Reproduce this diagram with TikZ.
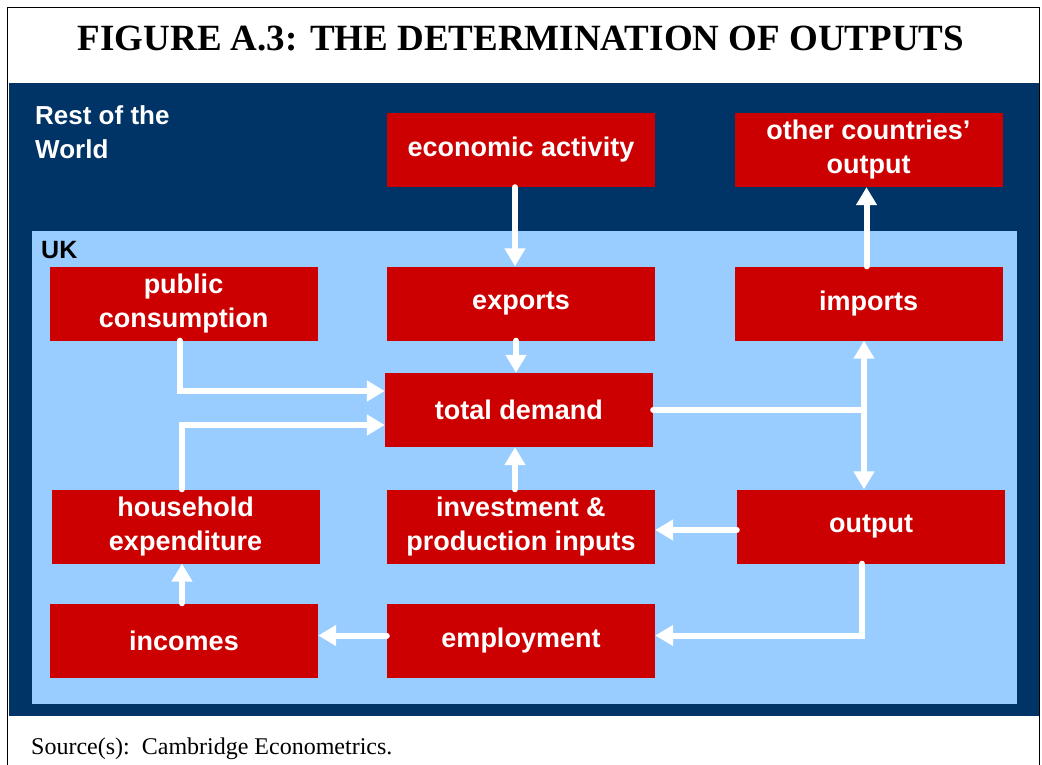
\documentclass[tikz,border=0pt]{standalone}
\usepackage{fontspec}
\setmainfont{Liberation Serif}
\newfontfamily\arialbold{Liberation Sans}[BoldFont={* Bold}]
\usetikzlibrary{arrows.meta}
\definecolor{rowblue}{HTML}{003366}
\definecolor{ukblue}{HTML}{99CCFF}
\definecolor{boxred}{HTML}{CC0000}
\begin{document}
\begin{tikzpicture}[x=1pt,y=-1pt,
  box/.style={fill=boxred, minimum width=268pt, minimum height=74pt, inner sep=0pt,
    text=white, align=center, font=\arialbold\bfseries\fontsize{27}{34}\selectfont},
  arr/.style={draw=white, line width=6pt, line cap=round,
    -{Triangle[width=20pt,length=18pt]}},
  arrboth/.style={draw=white, line width=6pt,
    {Triangle[width=20pt,length=18pt]}-{Triangle[width=20pt,length=18pt]}},
  flow/.style={draw=white, line width=6pt, line cap=round}]
\useasboundingbox (0,0) rectangle (1042,765);
\fill[white] (0,0) rectangle (1042,765);
% frame
\draw[line width=1.5pt] (7.5,7.5) rectangle (1039.5,768);
% title
\node[font=\bfseries\fontsize{37}{42}\selectfont, anchor=base] (title) at (521,51)
  {FIGURE A.3: THE DETERMINATION OF OUTPUTS};
% rest of the world and UK regions
\fill[rowblue] (8.5,83) rectangle (1038.5,716);
\fill[ukblue] (32,231) rectangle (1017,704);
\node[anchor=north west, inner sep=0pt, text=white, align=left,
  font=\arialbold\bfseries\fontsize{26}{34}\selectfont] (row) at (35,105)
  {Rest of the\\World};
\node[anchor=base west, inner sep=0pt,
  font=\arialbold\bfseries\fontsize{25}{30}\selectfont] (uk) at (41,258) {UK};
% boxes
\node[box] (econ) at (521,150) {economic activity};
\node[box] (other) at (868.5,150) {other countries’\\output};
\node[box] (public) at (183.5,303.5) {public\\consumption};
\node[box] (exports) at (521,303.5) {exports};
\node[box] (imports) at (868.5,303.5) {imports};
\node[box] (total) at (519,410) {total demand};
\node[box] (household) at (185.5,526.5) {household\\expenditure};
\node[box] (invest) at (521,526.5) {investment \&\\production inputs};
\node[box] (output) at (871,526.5) {output};
\node[box] (incomes) at (184,640.5) {incomes};
\node[box] (employment) at (521,640.5) {employment};
% connectors
\coordinate (split) at (864,410);
\draw[arr] ([xshift=-6pt]econ.south) -- ([xshift=-6pt]exports.north);
\draw[arr] ([xshift=-5pt]exports.south) -- ([xshift=-3pt]total.north);
\draw[arr] ([xshift=-4pt]public.south) |- ([yshift=19pt]total.west);
\draw[arr] ([xshift=-4pt]household.north) |- ([yshift=-15pt]total.west);
\draw[flow] (total.east) -- (split);
\draw[arrboth] (imports.south -| split) -- (output.north -| split);
\draw[arr] ([xshift=-2pt]imports.north) -- ([xshift=-2pt]other.south);
\draw[arr] ([xshift=-4pt]total.south |- invest.north) -- ([xshift=-4pt]total.south);
\draw[arr] ([yshift=-3.5pt]output.west) -- ([yshift=-3.5pt]output.west -| invest.east);
\draw[arr] ([xshift=-9pt]output.south) |- ([yshift=5pt]employment.east);
\draw[arr] ([yshift=5pt]employment.west) -- ([yshift=5pt]incomes.east);
\draw[arr] ([xshift=-2pt]incomes.north) -- ([xshift=-2pt]incomes.north |- household.south);
% source line
\node[anchor=base west, inner sep=0pt, font=\fontsize{24}{28}\selectfont] (source)
  at (31,754) {Source(s):\ \ Cambridge Econometrics.};
\end{tikzpicture}
\end{document}
